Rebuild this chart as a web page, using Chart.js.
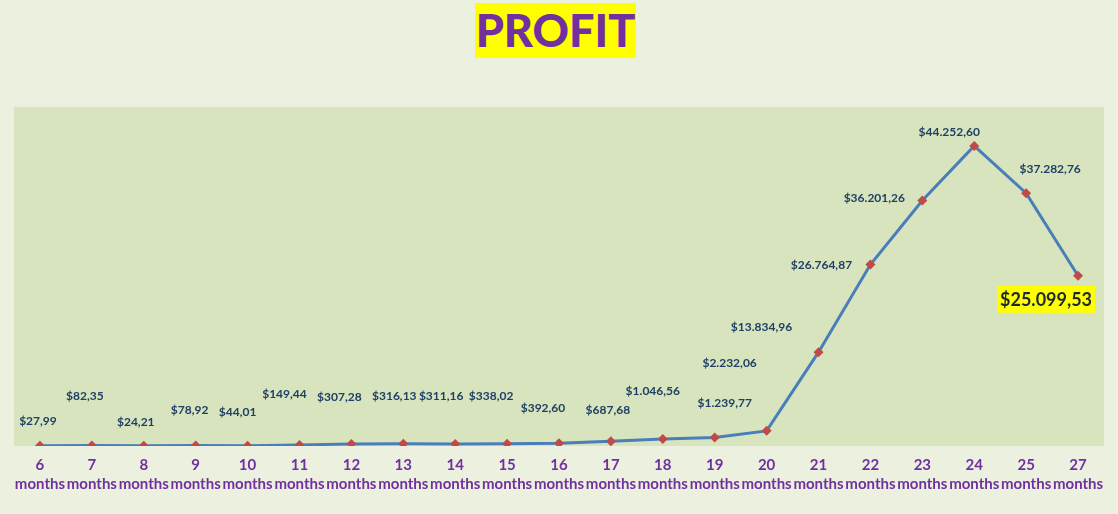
<!DOCTYPE html>
<html>
<head>
<meta charset="utf-8">
<script src="https://cdn.jsdelivr.net/npm/chart.js@4/dist/chart.umd.min.js"></script>
<style>
  html, body { margin: 0; padding: 0; background: #EBF0DF; }
  #wrap { position: relative; width: 1118px; height: 514px; }
  #title {
    position: absolute; left: 475px; top: 3px; width: 161px; height: 55px;
    background: #FFFF00; color: #7030A0; font-family: Lato, sans-serif; font-weight: 900;
    font-size: 45px; line-height: 55px; text-align: center;
  }
  canvas { position: absolute; left: 0; top: 0; }
</style>
</head>
<body>
<div id="wrap">
  <canvas id="c" width="1118" height="514"></canvas>
  <div id="title">PROFIT</div>
</div>
<script>
const monthNumbers = ['6','7','8','9','10','11','12','13','14','15','16','17','18','19','20','21','22','23','24','25','27'];
const monthWord = 'months';
const profit = [27.99, 82.35, 24.21, 78.92, 44.01, 149.44, 307.28, 316.13, 311.16, 338.02, 392.60, 687.68, 1046.56, 1239.77, 2232.06, 13834.96, 26764.87, 36201.26, 44252.60, 37282.76, 25099.53];
const highlightIndex = 20;

const labelOffsets = [
  [-2,-25],[-7,-49],[-8,-24],[-6,-35],[-10,-34],[-15,-51],[-12,-47],[-9,-48],[-14,-48],[-16,-48],
  [-16,-35],[-3,-31],[-10,-48],[10,-34],[-37,-68],[-57,-25],[-49,1],[-48,-2],[-25,-14],[24,-24],[-32,24]
];

function fmt(v) {
  const parts = v.toFixed(2).split('.');
  const intPart = parts[0].replace(/\B(?=(\d{3})+(?!\d))/g, '.');
  return '$' + intPart + ',' + parts[1];
}

const bgPlugin = {
  id: 'bg',
  beforeDraw(chart) {
    const { ctx, chartArea: a } = chart;
    ctx.save();
    ctx.fillStyle = '#EBF0DF';
    ctx.fillRect(0, 0, chart.width, chart.height);
    ctx.fillStyle = '#D7E4BD';
    ctx.fillRect(a.left, a.top, a.right - a.left, a.bottom - a.top);
    ctx.restore();
  }
};

const labelPlugin = {
  id: 'vlabels',
  afterDatasetsDraw(chart) {
    const { ctx } = chart;
    const meta = chart.getDatasetMeta(0);
    ctx.save();
    ctx.textAlign = 'center';
    ctx.textBaseline = 'middle';
    meta.data.forEach((pt, i) => {
      const [dx, dy] = labelOffsets[i];
      const x = pt.x + dx, y = pt.y + dy;
      const txt = fmt(profit[i]);
      if (i === highlightIndex) {
        ctx.font = 'bold 18px Lato';
        const w = ctx.measureText(txt).width;
        ctx.fillStyle = '#FFFF00';
        ctx.fillRect(x - w / 2 - 3, y - 14, w + 6, 27);
        ctx.fillStyle = '#1B2A36';
        ctx.fillText(txt, x, y);
      } else {
        ctx.font = 'bold 12px Lato';
        ctx.fillStyle = '#1F3F66';
        ctx.fillText(txt, x, y);
      }
    });
    ctx.restore();
  }
};

new Chart(document.getElementById('c'), {
  type: 'line',
  data: {
    labels: monthNumbers.map(n => [n, monthWord]),
    datasets: [{
      data: profit,
      borderColor: '#4A7EBB',
      borderWidth: 3,
      tension: 0,
      pointStyle: 'rectRot',
      pointRadius: 5,
      pointBackgroundColor: '#BE4B48',
      pointBorderColor: '#BE4B48',
      pointBorderWidth: 0
    }]
  },
  options: {
    responsive: false,
    animation: false,
    devicePixelRatio: 1,
    layout: { padding: { top: 107, left: 14, right: 14, bottom: 19 } },
    plugins: { legend: { display: false }, tooltip: { enabled: false }, title: { display: false } },
    scales: {
      x: {
        offset: true,
        grid: { display: false },
        border: { display: false },
        ticks: {
          color: '#7030A0',
          font: { family: 'Lato', weight: 'bold', size: 15, lineHeight: 1.3 },
          padding: 1,
          maxRotation: 0,
          autoSkip: false
        }
      },
      y: { display: false, min: 0, max: 50000 }
    }
  },
  plugins: [bgPlugin, labelPlugin]
});
</script>
</body>
</html>
